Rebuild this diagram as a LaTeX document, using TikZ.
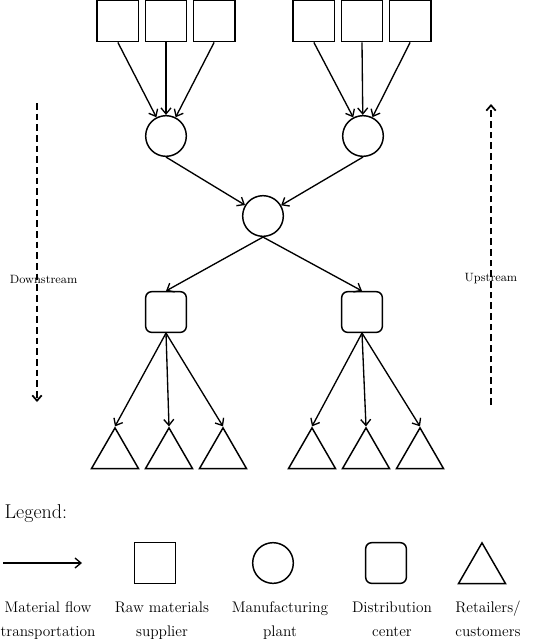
\documentclass[tikz,border=0pt]{standalone}
\usepackage{tikz}
\usetikzlibrary{arrows.meta, positioning, shapes.geometric}

\begin{document}
\begin{tikzpicture}[
  x=0.75pt, y=-0.75pt,
  node distance = 4pt and 4pt,
  raw/.style   = {draw, line width=1.1pt, minimum size=31pt, inner sep=0pt},
  plant/.style = {draw, circle, line width=1.1pt, minimum size=30.5pt,
                  inner sep=0pt},
  dc/.style    = {draw, rounded corners=4.5pt, line width=1.1pt,
                  minimum size=30.5pt, inner sep=0pt},
  shop/.style  = {draw, regular polygon, regular polygon sides=3,
                  line width=1.1pt, minimum size=40.7pt, inner sep=0pt},
  arr/.style   = {-{Straight Barb[length=4.5pt,width=7.5pt]}, line width=1pt},
  flow/.style  = {-{Straight Barb[length=4pt,width=7pt]}, line width=1.3pt,
                  dash pattern=on 5pt off 3pt},
  side/.style  = {font=\fontsize{9}{11}\selectfont},
  lbl/.style   = {font=\fontsize{11.5}{17.5}\selectfont, align=center,
                  anchor=base},
]
  \useasboundingbox (0,0) rectangle (537,643);

  % suppliers
  \node[raw] (rawL2) at (166,21) {};
  \node[raw, left=of rawL2]  (rawL1) {};
  \node[raw, right=of rawL2] (rawL3) {};
  \node[raw] (rawR2) at (362,21) {};
  \node[raw, left=of rawR2]  (rawR1) {};
  \node[raw, right=of rawR2] (rawR3) {};

  % plants
  \node[plant] (plantL) at (166,136) {};
  \node[plant] (plantR) at (363,136) {};
  \node[plant] (plantM) at (263,216) {};

  % distribution centers
  \node[dc] (dcL) at (166,312) {};
  \node[dc] (dcR) at (362,312) {};

  % retailers
  \node[shop] (shopL1) at (115,455) {};
  \node[shop] (shopL2) at (169,455) {};
  \node[shop] (shopL3) at (223,455) {};
  \node[shop] (shopR1) at (312,455) {};
  \node[shop] (shopR2) at (366,455) {};
  \node[shop] (shopR3) at (420,455) {};

  \draw[arr] (rawL1.south) -- (plantL);
  \draw[arr] (rawL2.south) -- (plantL);
  \draw[arr] (rawL3.south) -- (plantL);
  \draw[arr] (rawR1.south) -- (plantR);
  \draw[arr] (rawR2.south) -- (plantR);
  \draw[arr] (rawR3.south) -- (plantR);
  \draw[arr] (plantL.south) -- (plantM);
  \draw[arr] (plantR.south) -- (plantM);
  \draw[arr] (plantM.south) -- (dcL.north);
  \draw[arr] (plantM.south) -- (dcR.north);
  \draw[arr] (dcL.south) -- (shopL1.corner 1);
  \draw[arr] (dcL.south) -- (shopL2.corner 1);
  \draw[arr] (dcL.south) -- (shopL3.corner 1);
  \draw[arr] (dcR.south) -- (shopR1.corner 1);
  \draw[arr] (dcR.south) -- (shopR2.corner 1);
  \draw[arr] (dcR.south) -- (shopR3.corner 1);

  % stream directions
  \coordinate (downTop) at (37,103);
  \coordinate (downBot) at (37,402);
  \coordinate (upBot)   at (491,405);
  \coordinate (upTop)   at (491,104);
  \draw[flow] (downTop) -- node[side, xshift=5pt, pos=0.59] (downLbl) {Downstream} (downBot);
  \draw[flow] (upBot) -- node[side, pos=0.42] (upLbl) {Upstream} (upTop);

  % legend
  \node[font=\fontsize{15}{18}\selectfont, anchor=base west] (legend) at (0,518) {Legend:};
  \coordinate (legA) at (3,563);
  \coordinate (legB) at (82,563);
  \draw[arr] (legA) -- (legB);
  \node[raw]   (legRaw)   at (155,563) {};
  \node[plant] (legPlant) at (273,563) {};
  \node[dc]    (legDc)    at (386,563) {};
  \node[shop]  (legShop)  at (482,570) {};
  \node[lbl] (lblFlow)  at (48,636)  {Material flow\\transportation};
  \node[lbl] (lblRaw)   at (162,636) {Raw materials\\supplier};
  \node[lbl] (lblPlant) at (280,636) {Manufacturing\\plant};
  \node[lbl] (lblDc)    at (392,636) {Distribution\\center};
  \node[lbl] (lblShop)  at (488,636) {Retailers/\\customers};
\end{tikzpicture}
\end{document}
